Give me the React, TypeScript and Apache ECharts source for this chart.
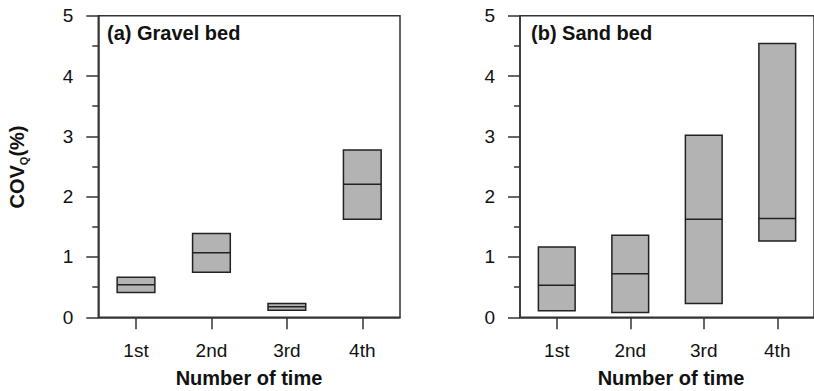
import React, { useEffect, useRef } from "react";
import * as echarts from "echarts";

const categories = ["1st", "2nd", "3rd", "4th"];
const gravelLow = [0.41, 0.745, 0.115, 1.625];
const gravelMid = [0.54, 1.07, 0.175, 2.205];
const gravelHigh = [0.665, 1.39, 0.23, 2.775];
const sandLow = [0.11, 0.08, 0.23, 1.265];
const sandMid = [0.53, 0.72, 1.625, 1.64];
const sandHigh = [1.165, 1.36, 3.02, 4.54];
const yTicks = [0, 1, 2, 3, 4, 5];

const FONT = "'Liberation Sans', Arial, sans-serif";
const AX = "#333";

function renderBox(params: any, api: any) {
  const x = api.value(0);
  const lo = api.coord([x, api.value(1)]);
  const mid = api.coord([x, api.value(2)]);
  const hi = api.coord([x, api.value(3)]);
  const w = api.size([1, 0])[0] * 0.5;
  return {
    type: "group",
    children: [
      {
        type: "rect",
        shape: { x: lo[0] - w / 2, y: hi[1], width: w, height: lo[1] - hi[1] },
        style: { fill: "#b3b3b3", stroke: "#222", lineWidth: 1.5 },
      },
      {
        type: "line",
        shape: { x1: lo[0] - w / 2, y1: mid[1], x2: lo[0] + w / 2, y2: mid[1] },
        style: { stroke: "#222", lineWidth: 1.5 },
      },
    ],
  };
}

function xAxis(idx: number) {
  return {
    type: "category",
    gridIndex: idx,
    data: categories,
    boundaryGap: true,
    axisLine: { show: true, lineStyle: { color: AX, width: 1.5 } },
    axisTick: { show: true, interval: 0, inside: false, alignWithLabel: true, length: 12, lineStyle: { color: AX, width: 1.5 } },
    axisLabel: { fontSize: 19, color: "#111", margin: 24, fontFamily: "Liberation Sans" },
    splitLine: { show: false },
  };
}

function yAxis(idx: number) {
  return {
    type: "value",
    gridIndex: idx,
    min: yTicks[0],
    max: yTicks[yTicks.length - 1],
    interval: 1,
    axisLine: { show: true, lineStyle: { color: AX, width: 1.5 } },
    axisTick: { show: true, length: 12, lineStyle: { color: AX, width: 1.5 } },
    minorTick: { show: true, splitNumber: 2, length: 6, lineStyle: { color: AX, width: 1.5 } },
    axisLabel: { fontSize: 19, color: "#111", margin: 25, fontFamily: "Liberation Sans" },
    splitLine: { show: false },
    minorSplitLine: { show: false },
  };
}

export default function App() {
  const ref = useRef<HTMLDivElement>(null);
  useEffect(() => {
    if (!ref.current) return;
    const chart = echarts.init(ref.current, undefined, { renderer: "svg" });
    chart.setOption({
      animation: false,
      backgroundColor: "#fff",
      grid: [
        { left: 98.3, top: 15.7, width: 301.7, height: 301.6, show: true, borderColor: AX, borderWidth: 1.5, backgroundColor: "transparent" },
        { left: 520, top: 15.7, width: 301.7, height: 301.6, show: true, borderColor: AX, borderWidth: 1.5, backgroundColor: "transparent" },
      ],
      xAxis: [xAxis(0), xAxis(1)],
      yAxis: [yAxis(0), yAxis(1)],
      series: [
        {
          type: "custom",
          xAxisIndex: 0,
          yAxisIndex: 0,
          renderItem: renderBox,
          encode: { x: 0, y: [1, 2, 3] },
          data: categories.map((_, i) => [i, gravelLow[i], gravelMid[i], gravelHigh[i]]),
        },
        {
          type: "custom",
          xAxisIndex: 1,
          yAxisIndex: 1,
          renderItem: renderBox,
          encode: { x: 0, y: [1, 2, 3] },
          data: categories.map((_, i) => [i, sandLow[i], sandMid[i], sandHigh[i]]),
        },
      ],
      graphic: [
        {
          type: "text",
          left: 107,
          top: 23,
          style: { text: "(a) Gravel bed", font: `bold 20px ${FONT}`, fill: "#111" },
        },
        {
          type: "text",
          left: 531,
          top: 23,
          style: { text: "(b) Sand bed", font: `bold 20px ${FONT}`, fill: "#111" },
        },
        {
          type: "text",
          x: 249,
          y: 378,
          style: { text: "Number of time", font: `bold 20px ${FONT}`, fill: "#111", align: "center", verticalAlign: "middle" },
        },
        {
          type: "text",
          x: 671,
          y: 378,
          style: { text: "Number of time", font: `bold 20px ${FONT}`, fill: "#111", align: "center", verticalAlign: "middle" },
        },
        {
          type: "text",
          x: 17,
          y: 167,
          rotation: Math.PI / 2,
          style: {
            text: "{a|COV}{s|Q}{a|(%)}",
            align: "center",
            verticalAlign: "middle",
            fill: "#111",
            rich: {
              a: { font: `bold 20px ${FONT}`, fill: "#111", lineHeight: 24, verticalAlign: "middle" },
              s: { font: `bold 11px ${FONT}`, fill: "#111", lineHeight: 24, verticalAlign: "bottom", padding: [10, 0, 0, 0] },
            },
          },
        },
      ],
    });
    return () => chart.dispose();
  }, []);
  return <div ref={ref} style={{ position: "absolute", left: 0, top: 0, width: 814, height: 391 }} />;
}
